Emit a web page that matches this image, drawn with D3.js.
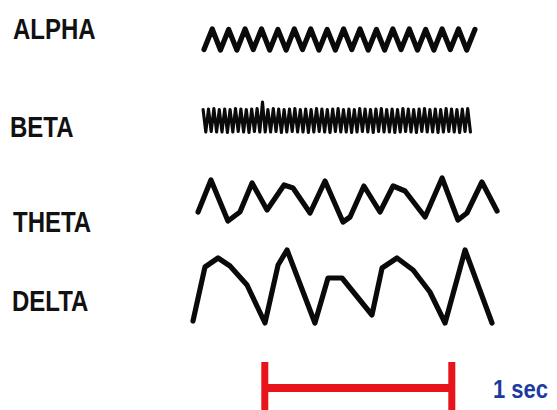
<!DOCTYPE html>
<html>
<head>
<meta charset="utf-8">
<script src="https://cdn.jsdelivr.net/npm/d3@7"></script>
<style>
  html, body { margin: 0; padding: 0; background: #fff; }
  svg { display: block; }
</style>
</head>
<body>
<svg id="chart" width="557" height="410"></svg>
<script>
// ---- Data (time in ms, amplitude in µV) ----
const waveNames = ["ALPHA", "BETA", "THETA", "DELTA"];

// Alpha: uniformly sampled half-cycles
const alphaStart = 75, alphaStep = 43.9;
const alphaV = [-20,21,-21,20,-21,21,-20,21,-21,20,-21,21,-20,21,-21,20,-21,21,
                -20,21,-21,20,-21,21,-20,21,-21,20,-21,21,-20,21,-21,20];

// Beta: uniformly sampled half-cycles
const betaStart = 70, betaStep = 14.44;
const betaV = [
  22,-23,23,-22,24,-23,22,-23,23,-24,
  22,-23,24,-22,23,-23,22,-24,23,-22,
  24,-23,37,-23,22,-23,24,-22,23,-24,
  22,-23,23,-22,24,-23,22,-23,23,-24,
  22,-23,24,-22,23,-23,22,-24,23,-22,
  24,-23,22,-23,23,-24,22,-23,24,-22,
  23,-23,22,-24,23,-22,24,-23,22,-23,
  23,-24,22,-23,24,-22,23,-23,22,-24,
  23,-22,24,-23,22,-23,23,-24,22,-23,
  24,-22,23,-23,22,-24,23,-22,24,-23
];

const thetaT = [43,112,203,267,332,412,503,551,642,722,818,856,930,1016,1086,1150,1257,1348,1433,1481,1561,1642];
const thetaV = [-24,40,-42,-24,34,-20,30,24,-26,38,-44,-34,28,-24,28,18,-34,44,-40,-26,36,-22];

const deltaT = [16,80,150,214,305,401,471,519,668,738,813,973,1027,1107,1193,1283,1364,1471,1615];
const deltaV = [-69,39,57,41,3,-73,43,73,-73,17,17,-57,37,57,33,-11,-73,73,-73];

const scaleBarMs = [400, 1400];
const scaleBarLabel = "1 sec";

// ---- Layout ----
const svg = d3.select("#chart");
const xScale = d3.scaleLinear().domain([0, 1750]).range([190, 517.25]);
const ampScale = d3.scaleLinear().domain([-100, 100]).range([50, -50]);
const rowCenter = { ALPHA: 39.5, BETA: 120.5, THETA: 200, DELTA: 286.5 };
const labelPos = {
  ALPHA: [13, 39], BETA: [10, 137], THETA: [13, 232], DELTA: [12, 311]
};
const strokeW = { ALPHA: 5.2, BETA: 3.1, THETA: 5.2, DELTA: 5.2 };

const series = {
  ALPHA: alphaV.map((v, i) => [alphaStart + i * alphaStep, v]),
  BETA: betaV.map((v, i) => [betaStart + i * betaStep, v]),
  THETA: thetaT.map((t, i) => [t, thetaV[i]]),
  DELTA: deltaT.map((t, i) => [t, deltaV[i]])
};

// Labels
svg.selectAll("text.label")
  .data(waveNames)
  .join("text")
  .attr("class", "label")
  .attr("transform", d => `translate(${labelPos[d][0]},${labelPos[d][1]}) scale(1,1.22)`)
  .attr("font-family", "Liberation Sans, Arial, sans-serif")
  .attr("font-weight", "bold")
  .attr("font-size", 24)
  .attr("fill", "#111")
  .text(d => d);

// Waves
waveNames.forEach(name => {
  const line = d3.line()
    .x(d => xScale(d[0]))
    .y(d => rowCenter[name] + ampScale(d[1]));
  svg.append("path")
    .datum(series[name])
    .attr("d", line)
    .attr("fill", "none")
    .attr("stroke", "#0a0a0a")
    .attr("stroke-width", strokeW[name])
    .attr("stroke-linejoin", "round")
    .attr("stroke-linecap", "round");
});

// Scale bar
const barY = 388;
const red = "#e8141b";
svg.append("line")
  .attr("x1", xScale(scaleBarMs[0])).attr("x2", xScale(scaleBarMs[1]))
  .attr("y1", barY).attr("y2", barY)
  .attr("stroke", red).attr("stroke-width", 8);
svg.selectAll("rect.cap")
  .data(scaleBarMs)
  .join("rect")
  .attr("class", "cap")
  .attr("x", d => xScale(d) - 3.5)
  .attr("y", 362)
  .attr("width", 7)
  .attr("height", 48)
  .attr("fill", red);

svg.append("text")
  .attr("transform", "translate(493,398) scale(1,1.15)")
  .attr("font-family", "Liberation Sans, Arial, sans-serif")
  .attr("font-weight", "bold")
  .attr("font-size", 22)
  .attr("fill", "#1d3a9e")
  .text(scaleBarLabel);
</script>
</body>
</html>
